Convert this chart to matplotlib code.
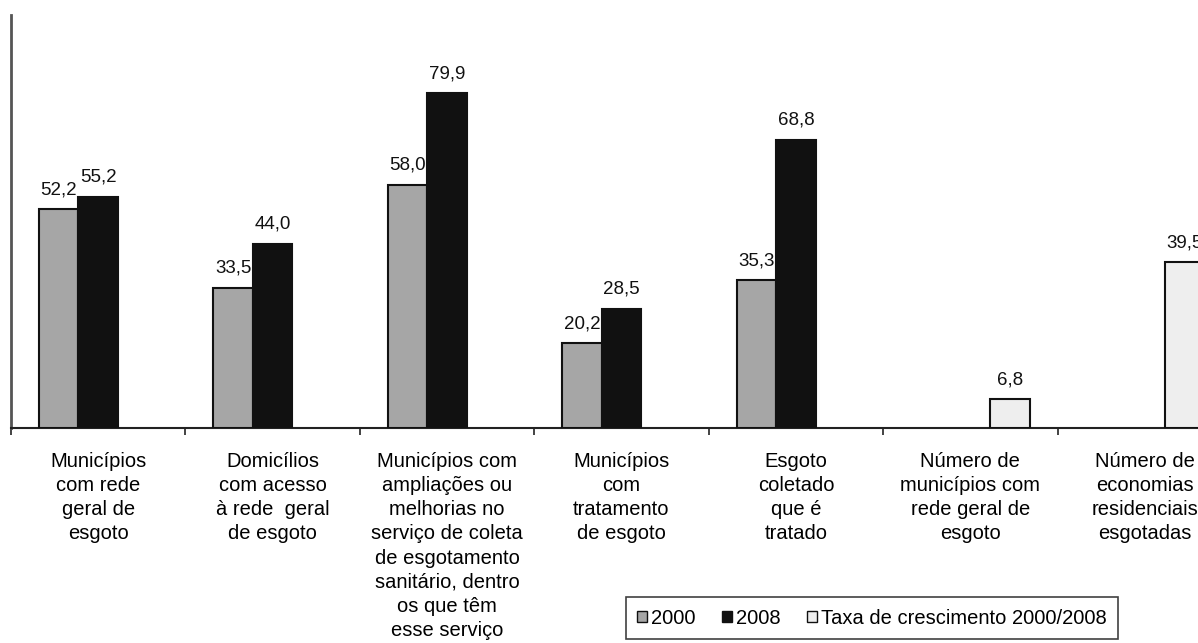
import numpy as np
import matplotlib
matplotlib.use("Agg")
import matplotlib.pyplot as plt
from matplotlib.patches import Patch

plt.rcParams['font.family'] = ['Liberation Sans', 'DejaVu Sans']

categories = [
    "Municípios\ncom rede\ngeral de\nesgoto",
    "Domicílios\ncom acesso\nà rede  geral\nde esgoto",
    "Municípios com\nampliações ou\nmelhorias no\nserviço de coleta\nde esgotamento\nsanitário, dentro\nos que têm\nesse serviço",
    "Municípios\ncom\ntratamento\nde esgoto",
    "Esgoto\ncoletado\nque é\ntratado",
    "Número de\nmunicípios com\nrede geral de\nesgoto",
    "Número de\neconomias\nresidenciais\nesgotadas",
]
s2000 = [52.2, 33.5, 58.0, 20.2, 35.3, np.nan, np.nan]
s2008 = [55.2, 44.0, 79.9, 28.5, 68.8, np.nan, np.nan]
taxa = [np.nan, np.nan, np.nan, np.nan, np.nan, 6.8, 39.5]
series_names = ["2000", "2008", "Taxa de crescimento 2000/2008"]
colors = ["#a6a6a6", "#111111", "#eeeeee"]

W, H = 1198, 643
fig = plt.figure(figsize=(W / 100, H / 100), dpi=100)
left, right, bottom, top = 11, 1232, 428, 15
ax = fig.add_axes([left / W, (H - bottom) / H, (right - left) / W, (bottom - top) / H])

x = np.arange(len(categories))
bw = 0.2265
offsets = [-bw, 0, bw]
for vals, off, col in zip([s2000, s2008, taxa], offsets, colors):
    v = np.array(vals, dtype=float)
    mask = ~np.isnan(v)
    ax.bar(x[mask] + off, v[mask], width=bw, color=col, edgecolor="#111111",
           linewidth=1.5, zorder=3)
    for xi, yi in zip(x[mask] + off, v[mask]):
        ax.text(xi, yi + 2.6, f"{yi:.1f}".replace(".", ","), ha="center", va="bottom",
                fontsize=13.5, color="#111111")

ax.set_xlim(-0.5, len(categories) - 0.5)
ax.set_ylim(0, 98.5)
ax.set_yticks([])
for s in ["top", "right"]:
    ax.spines[s].set_visible(False)
ax.spines["left"].set_color("#555555")
ax.spines["left"].set_linewidth(2)
ax.spines["bottom"].set_color("#222222")
ax.spines["bottom"].set_linewidth(1.5)

ax.set_xticks(x)
ax.set_xticklabels(categories, fontsize=14.5, linespacing=1.35)
ax.tick_params(axis="x", which="major", length=0, pad=17)
ax.set_xticks(np.arange(-0.5, len(categories), 1), minor=True)
ax.tick_params(axis="x", which="minor", length=5, width=1.2, color="#222222", direction="out")

handles = [Patch(facecolor=c, edgecolor="#111111", linewidth=1) for c in colors]
leg = fig.legend(handles, series_names, loc="center", bbox_to_anchor=(872 / W, 1 - 618 / H),
                 ncol=3, frameon=True, fancybox=False, fontsize=14.5, handlelength=0.5,
                 handleheight=0.5, handletextpad=0.2, columnspacing=1.3, borderpad=0.55,
                 borderaxespad=0)
leg.get_frame().set_edgecolor("#111111")
leg.get_frame().set_linewidth(1.2)

fig.savefig("out.png", dpi=100)
